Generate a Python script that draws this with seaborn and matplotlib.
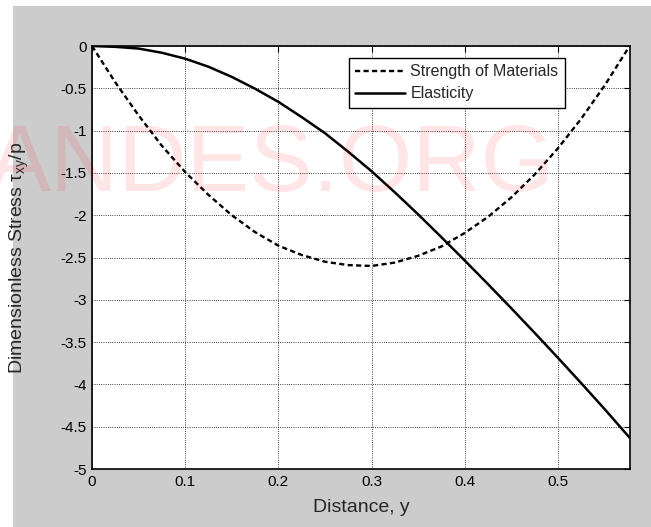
import numpy as np
import pandas as pd
import seaborn as sns
import matplotlib.pyplot as plt
from matplotlib.patches import Rectangle

# distance along the section, y
distance = [0.0, 0.025, 0.05, 0.075, 0.1, 0.125, 0.15, 0.175, 0.2, 0.225, 0.25, 0.275,
            0.3, 0.325, 0.35, 0.375, 0.4, 0.425, 0.45, 0.475, 0.5, 0.525, 0.55, 0.577]

# shear stress tau_xy / p
som_stress = [0.0, -0.43, -0.82, -1.18, -1.49, -1.76, -2.00, -2.20, -2.36, -2.47, -2.55, -2.59,
              -2.60, -2.56, -2.48, -2.37, -2.21, -2.02, -1.79, -1.52, -1.21, -0.86, -0.47, 0.0]
elasticity_stress = [0.0, -0.01, -0.03, -0.08, -0.15, -0.245, -0.365, -0.505, -0.66, -0.84, -1.03, -1.25,
                     -1.48, -1.73, -1.99, -2.26, -2.535, -2.815, -3.10, -3.39, -3.685, -3.985, -4.29, -4.63]

xticks = [0, 0.1, 0.2, 0.3, 0.4, 0.5]
yticks = [0, -0.5, -1, -1.5, -2, -2.5, -3, -3.5, -4, -4.5, -5]

sns.set_style("white")
plt.rcParams['font.family'] = ['Liberation Sans', 'DejaVu Sans']
plt.rcParams['mathtext.fontset'] = 'custom'
plt.rcParams['mathtext.rm'] = 'Liberation Sans'
plt.rcParams['mathtext.it'] = 'Liberation Sans'
plt.rcParams['mathtext.default'] = 'regular'

df = pd.DataFrame({"y": distance, "som": som_stress, "ela": elasticity_stress})

fig = plt.figure(figsize=(6.51, 5.27), dpi=100, facecolor='white')
# grey matlab figure background
fig.patches.append(Rectangle((13 / 651, 0), 1, (527 - 6) / 527, transform=fig.transFigure,
                             facecolor='#cccccc', edgecolor='none', zorder=-5))
ax = fig.add_axes([92 / 651, (527 - 469) / 527, 538 / 651, 423 / 527])
ax.set_zorder(1)
ax.set_facecolor('white')

sns.lineplot(data=df, x="y", y="som", ax=ax, color='black', lw=1.7,
             label='Strength of Materials')
ax.lines[-1].set_dashes((2.2, 1.4))
sns.lineplot(data=df, x="y", y="ela", ax=ax, color='black', lw=1.8, label='Elasticity')

ax.set_xlim(0, 0.5774)
ax.set_ylim(-5, 0)
ax.set_xticks(xticks)
ax.set_xticklabels(['0', '0.1', '0.2', '0.3', '0.4', '0.5'])
ax.set_yticks(yticks)
ax.set_yticklabels(['0', '-0.5', '-1', '-1.5', '-2', '-2.5', '-3', '-3.5', '-4', '-4.5', '-5'])
ax.grid(True, color='black', linestyle=':', linewidth=0.6)
ax.tick_params(direction='in', length=4, width=0.8, top=True, right=True,
               labelsize=11, colors='black', pad=4)
for s in ax.spines.values():
    s.set_visible(True)
    s.set_color('black')
    s.set_linewidth(1.2)

ax.set_xlabel('Distance, y', fontsize=14)
ax.set_ylabel('Dimensionless Stress τ$_{xy}$/p', fontsize=14)
ax.xaxis.set_label_coords(0.5, -0.07)
ax.yaxis.set_label_coords(-0.113, 0.5)

leg = ax.legend(loc='upper right', bbox_to_anchor=(0.879, 0.972), borderaxespad=0,
                fontsize=11.5, frameon=True, fancybox=False, handlelength=3.1,
                labelspacing=0.45, borderpad=0.4, handletextpad=0.35)
leg.get_frame().set_edgecolor('black')
leg.get_frame().set_linewidth(1.0)
leg.get_frame().set_alpha(1)
leg.legend_handles[0].set_dashes((2.2, 1.4))

fig.text(-12 / 651, (527 - 191) / 527, 'ANDES.ORG', fontsize=68, color='red', alpha=0.1,
         ha='left', va='baseline', zorder=20)

plt.savefig("out.png", dpi=100, facecolor=fig.get_facecolor())
